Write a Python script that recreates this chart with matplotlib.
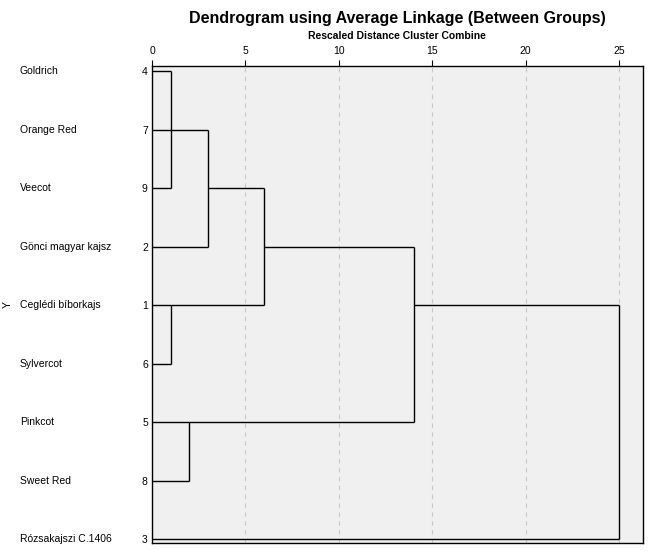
import numpy as np
import matplotlib.pyplot as plt

plt.rcParams['font.family'] = ['Liberation Sans', 'DejaVu Sans']

# leaves in display order (top to bottom), with case numbers
leaf_names = ["Goldrich", "Orange Red", "Veecot", "Gönci magyar kajsz", "Ceglédi bíborkajs",
              "Sylvercot", "Pinkcot", "Sweet Red", "Rózsakajszi C.1406"]
leaf_ids = [4, 7, 9, 2, 1, 6, 5, 8, 3]

# merges: (cluster a, cluster b, rescaled distance); leaves are referred to by case number,
# merged clusters by "c0", "c1", ...
merges = [
    (4, 9, 1.0),
    ("c0", 7, 1.0),
    (1, 6, 1.0),
    (5, 8, 2.0),
    ("c1", 2, 3.0),
    ("c4", "c2", 6.0),
    ("c5", "c3", 14.0),
    ("c6", 3, 25.0),
]

ticks = [0, 5, 10, 15, 20, 25]

fig = plt.figure(figsize=(6.51, 5.51), dpi=100)
ax = fig.add_axes([152 / 651, 1 - 543 / 551, (643 - 152) / 651, (543 - 66) / 551])
ax.set_facecolor('#f0f0f0')

# node row position and height
pos = {lid: (float(i), 0.0) for i, lid in enumerate(leaf_ids)}
for k, (a, b, d) in enumerate(merges):
    ya, ha = pos[a]
    yb, hb = pos[b]
    ax.plot([ha, d], [ya, ya], color='black', lw=1.0, solid_capstyle='butt')
    ax.plot([hb, d], [yb, yb], color='black', lw=1.0, solid_capstyle='butt')
    ax.plot([d, d], [ya, yb], color='black', lw=1.0, solid_capstyle='butt')
    # SPSS places the joined cluster on the upper of the middle rows
    pos["c%d" % k] = (float(np.floor((ya + yb) / 2)), d)

for t in ticks[1:]:
    ax.axvline(t, color='#c8c8c8', lw=0.8, ls=(0, (4, 4)), zorder=0)

ax.set_xlim(0, 26.28)
ax.set_ylim(8 + 4 / 58.5, -5 / 58.5)

ax.xaxis.tick_top()
ax.set_xticks(ticks)
ax.set_xticklabels([str(t) for t in ticks], fontsize=7.5)
ax.tick_params(axis='x', direction='out', length=4.5, width=0.8, pad=3)
ax.set_yticks(range(len(leaf_ids)))
ax.set_yticklabels([str(i) for i in leaf_ids], fontsize=7.5)
ax.tick_params(axis='y', length=0, pad=3)
for s in ax.spines.values():
    s.set_linewidth(1.0)

for i, name in enumerate(leaf_names):
    ax.annotate(name, xy=(20 / 651, 0), xycoords=('figure fraction', 'data'),
                xytext=(0, i), textcoords=('offset points', 'data'),
                ha='left', va='center', fontsize=7.5)

fig.text(8 / 651, 1 - 305 / 551, "Y", rotation=90, ha='center', va='center', fontsize=7.5)
fig.text(397 / 651, 1 - 18 / 551, "Dendrogram using Average Linkage (Between Groups)",
         ha='center', va='center', fontsize=11.5, fontweight='bold')
fig.text(397 / 651, 1 - 36 / 551, "Rescaled Distance Cluster Combine",
         ha='center', va='center', fontsize=7.5, fontweight='bold')

fig.savefig('out.png', dpi=100)
